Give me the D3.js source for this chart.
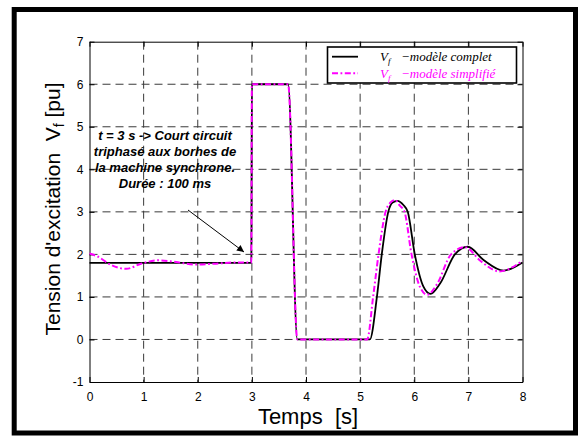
<!DOCTYPE html>
<html>
<head>
<meta charset="utf-8">
<script src="https://cdn.jsdelivr.net/npm/d3@7"></script>
<style>
  html, body { margin: 0; padding: 0; background: #fff; }
  svg { display: block; }
  text { white-space: pre; }
</style>
</head>
<body>
<svg id="chart" width="580" height="436"></svg>
<script>
// Field voltage response: full model vs simplified model
const completTime   = [0, 2.99, 3.0, 3.67, 3.84, 5.18, 5.31, 5.40, 5.52, 5.60, 5.69, 5.80, 5.88, 6.01, 6.17, 6.30, 6.48, 6.75, 6.99, 7.28, 7.65, 8.0];
const completValue  = [1.8, 1.8, 6.0, 6.0, 0.0, 0.0, 1.0, 2.0, 3.0, 3.22, 3.26, 3.16, 3.0, 2.0, 1.24, 1.07, 1.32, 2.0, 2.18, 1.87, 1.62, 1.81];

const simpleTime    = [0, 0.15, 0.4, 0.68, 0.95, 1.27, 1.6, 1.95, 2.3, 2.7, 2.99, 3.0, 3.67, 3.84, 5.13, 5.24, 5.34, 5.47, 5.56, 5.645, 5.73, 5.82, 5.95, 6.10, 6.24, 6.42, 6.68, 6.94, 7.22, 7.57, 8.0];
const simpleValue   = [2.02, 1.95, 1.75, 1.66, 1.78, 1.86, 1.82, 1.76, 1.78, 1.81, 1.81, 6.0, 6.0, 0.0, 0.0, 1.0, 2.0, 3.0, 3.22, 3.28, 3.15, 3.0, 2.0, 1.25, 1.05, 1.3, 2.0, 2.17, 1.85, 1.6, 1.85];

const xTicks = [0, 1, 2, 3, 4, 5, 6, 7, 8];
const yTicks = [-1, 0, 1, 2, 3, 4, 5, 6, 7];

const noteLines = [
  "t = 3 s -> Court circuit",
  "triphasé aux borhes de",
  "la machine synchrone.",
  "Durée : 100 ms"
];

const svg = d3.select("#chart");
const sans = "'Liberation Sans', Arial, sans-serif";
const serif = "'Liberation Serif', 'Times New Roman', serif";

// Outer frame
svg.append("rect")
  .attr("x", 14.2).attr("y", 9.5)
  .attr("width", 561.3).attr("height", 423.5)
  .attr("fill", "none").attr("stroke", "#000").attr("stroke-width", 5);

const plotLeft = 89.5, plotRight = 522.5, plotTop = 41.7, plotBottom = 382;
const x = d3.scaleLinear().domain([0, 8]).range([plotLeft, plotRight]);
const y = d3.scaleLinear().domain([-1, 7]).range([plotBottom, plotTop]);

// Dashed grid
const grid = svg.append("g").attr("stroke", "#3a3a3a").attr("stroke-width", 1).attr("stroke-dasharray", "8,5");
grid.selectAll(".gx").data(xTicks.slice(1, -1)).join("line")
  .attr("x1", d => x(d)).attr("x2", d => x(d))
  .attr("y1", plotTop).attr("y2", plotBottom);
grid.selectAll(".gy").data(yTicks.slice(1, -1)).join("line")
  .attr("x1", plotLeft).attr("x2", plotRight)
  .attr("y1", d => y(d)).attr("y2", d => y(d));

// Axes with inward ticks on all four sides
const tickFont = g => g.selectAll("text").attr("font-family", sans).attr("font-size", 12).attr("fill", "#000");
const styleAxis = g => { g.select(".domain").attr("stroke", "#000"); g.selectAll(".tick line").attr("stroke", "#000"); };
const plainNum = d => String(d);

svg.append("g").attr("transform", `translate(0,${plotBottom})`)
  .call(d3.axisBottom(x).tickValues(xTicks).tickSizeInner(-5).tickSizeOuter(0).tickPadding(10).tickFormat(plainNum))
  .call(styleAxis).call(tickFont);
svg.append("g").attr("transform", `translate(0,${plotTop})`)
  .call(d3.axisTop(x).tickValues(xTicks).tickSizeInner(-5).tickSizeOuter(0).tickFormat(""))
  .call(styleAxis);
svg.append("g").attr("transform", `translate(${plotLeft},0)`)
  .call(d3.axisLeft(y).tickValues(yTicks).tickSizeInner(-5).tickSizeOuter(0).tickPadding(6).tickFormat(plainNum))
  .call(styleAxis).call(tickFont);
svg.append("g").attr("transform", `translate(${plotRight},0)`)
  .call(d3.axisRight(y).tickValues(yTicks).tickSizeInner(-5).tickSizeOuter(0).tickFormat(""))
  .call(styleAxis);

// Series
const line = d3.line().x(d => x(d[0])).y(d => y(d[1])).curve(d3.curveMonotoneX);
const complet = completTime.map((t, i) => [t, completValue[i]]);
const simple = simpleTime.map((t, i) => [t, simpleValue[i]]);

svg.append("path").datum(complet)
  .attr("d", line).attr("fill", "none").attr("stroke", "#000").attr("stroke-width", 1.8);
svg.append("path").datum(simple)
  .attr("d", line).attr("fill", "none").attr("stroke", "#ff00ff").attr("stroke-width", 2)
  .attr("stroke-dasharray", "6,2.5,1.8,2.5");

// Legend
const lg = svg.append("g");
lg.append("rect").attr("x", 327.5).attr("y", 47).attr("width", 189).attr("height", 36)
  .attr("fill", "#fff").attr("stroke", "#000").attr("stroke-width", 1.6);
lg.append("line").attr("x1", 332).attr("x2", 358).attr("y1", 56.7).attr("y2", 56.7)
  .attr("stroke", "#000").attr("stroke-width", 1.8);
lg.append("line").attr("x1", 332).attr("x2", 358).attr("y1", 73.3).attr("y2", 73.3)
  .attr("stroke", "#ff00ff").attr("stroke-width", 2).attr("stroke-dasharray", "6,2.5,1.8,2.5");
const legendText = [["modèle complet", "#000", 61.2], ["modèle simplifié", "#ff00ff", 77.8]];
legendText.forEach(([label, col, yb]) => {
  const t = lg.append("text").attr("font-family", serif).attr("font-style", "italic")
    .attr("font-size", 13).attr("fill", col).attr("y", yb);
  t.append("tspan").attr("x", 380).text("V");
  t.append("tspan").attr("font-size", 9).attr("dy", 3).text("f");
  t.append("tspan").attr("x", 401).attr("dy", -3).text("\u2212" + label);
});

// Annotation
const note = svg.append("text").attr("font-family", sans).attr("font-weight", "bold")
  .attr("font-style", "italic").attr("font-size", 13).attr("fill", "#000").attr("text-anchor", "middle");
noteLines.forEach((s, i) => {
  note.append("tspan").attr("x", 165).attr("y", 139.5 + i * 16).text(s);
});
svg.append("defs").append("marker").attr("id", "ah")
  .attr("viewBox", "0 0 10 10").attr("refX", 10).attr("refY", 5)
  .attr("markerWidth", 9).attr("markerHeight", 7).attr("markerUnits", "userSpaceOnUse")
  .attr("orient", "auto")
  .append("path").attr("d", "M0,0 L10,5 L0,10 Z").attr("fill", "#000");
svg.append("line").attr("x1", 188).attr("y1", 210).attr("x2", 244).attr("y2", 252)
  .attr("stroke", "#000").attr("stroke-width", 1).attr("marker-end", "url(#ah)");

// Axis titles
svg.append("text").attr("x", 308).attr("y", 424).attr("text-anchor", "middle")
  .attr("font-family", sans).attr("font-size", 22).attr("fill", "#000").text("Temps  [s]");
const yt = svg.append("text").attr("transform", "translate(60,209) rotate(-90)")
  .attr("text-anchor", "middle").attr("font-family", sans).attr("font-size", 21).attr("fill", "#000");
yt.append("tspan").text("Tension d'excitation  V");
yt.append("tspan").attr("font-size", 14).attr("dy", 4).text("f");
yt.append("tspan").attr("dy", -4).text(" [pu]");
</script>
</body>
</html>
